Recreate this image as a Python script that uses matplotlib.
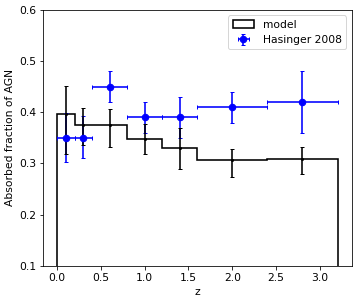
import matplotlib
matplotlib.use("Agg")
import matplotlib.pyplot as plt
import numpy as np

# Model (step histogram)
edges = [0.0, 0.2, 0.4, 0.8, 1.2, 1.6, 2.4, 3.2]
model_z = [0.1, 0.3, 0.6, 1.0, 1.4, 2.0, 2.8]
model_frac = [0.397, 0.375, 0.375, 0.347, 0.330, 0.307, 0.309]
model_err_lo = [0.078, 0.039, 0.043, 0.028, 0.040, 0.034, 0.030]
model_err_hi = [0.055, 0.034, 0.031, 0.030, 0.040, 0.021, 0.024]

# Hasinger 2008 data
has_z = [0.1, 0.3, 0.6, 1.0, 1.4, 2.0, 2.8]
has_zerr = [0.1, 0.1, 0.2, 0.2, 0.2, 0.4, 0.4]
has_frac = [0.35, 0.35, 0.45, 0.39, 0.39, 0.41, 0.42]
has_err_lo = [0.048, 0.040, 0.03, 0.03, 0.04, 0.03, 0.06]
has_err_hi = [0.048, 0.043, 0.03, 0.03, 0.04, 0.03, 0.06]

plt.rcParams['font.size'] = 10.8
plt.rcParams['lines.linewidth'] = 1.6
plt.rcParams['lines.markersize'] = 6.5

fig = plt.figure(figsize=(358/72, 303/72), dpi=72)
ax = fig.add_axes([0.12, 0.123, 0.862, 0.844])

ax.hist(model_z, bins=edges, weights=model_frac, histtype='step',
        color='k', linewidth=1.6, label='model')
ax.errorbar(has_z, has_frac, xerr=has_zerr, yerr=[has_err_lo, has_err_hi],
            fmt='o', color='blue', capsize=2, label='Hasinger 2008')
ax.errorbar(model_z, model_frac, yerr=[model_err_lo, model_err_hi], fmt='.',
            color='k', markersize=4, capsize=2)

ax.set_ylim(0.1, 0.6)
ax.set_xlabel('z')
ax.set_ylabel('Absorbed fraction of AGN')
ax.legend(loc='upper right')

fig.savefig('out.png', dpi=72)
